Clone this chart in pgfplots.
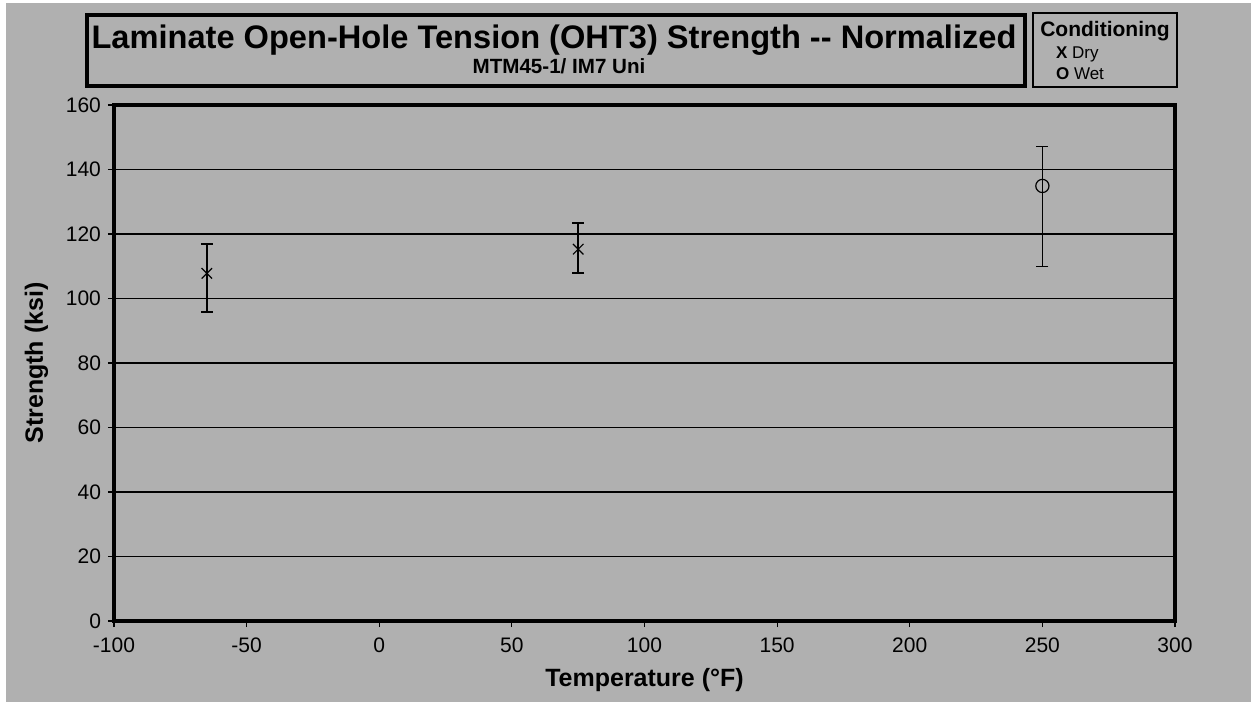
\documentclass[border=0pt]{standalone}
\usepackage{fontspec}
\setmainfont{Liberation Sans}
\usepackage{pgfplots}
\pgfplotsset{compat=1.18}
\definecolor{bg}{RGB}{176,176,176}
\begin{document}
\begin{tikzpicture}[x=0.5pt,y=0.5pt]
\fill[white] (0,0) rectangle (1251,702);
\fill[bg] (6,0) rectangle (1251,699);
% title box
\draw[line width=1.6pt] (87,687) rectangle (1025,616);
\node[font=\bfseries\fontsize{16.3}{18}\selectfont, anchor=center] at (554,662) {Laminate Open-Hole Tension (OHT3) Strength -{}- Normalized};
\node[font=\bfseries\fontsize{10.3}{12}\selectfont, anchor=center] at (559,636) {MTM45-1/ IM7 Uni};
% legend box
\draw[line width=0.6pt] (1033,689) rectangle (1177,615);
\node[font=\bfseries\fontsize{10.5}{12}\selectfont] at (1105,671) {Conditioning};
\node[font=\fontsize{8.5}{9}\selectfont, anchor=west] at (1049,648) {\textbf{X} Dry};
\node[font=\fontsize{8.5}{9}\selectfont, anchor=west] at (1049,628) {\textbf{O} Wet};
\coordinate (AO) at (114,81);
\begin{axis}[
  at={(AO)}, anchor=south west,
  scale only axis, width=530.5pt, height=258pt,
  xmin=-100, xmax=300, ymin=0, ymax=160,
  xtick={-100,-50,...,300}, ytick={0,20,...,160},
  axis line style={line width=2pt},
  ymajorgrids, grid style={black, line width=0.75pt},
  tick align=outside, xtick pos=left, ytick pos=left,
  major tick length=3pt,
  tick style={black, line width=0.6pt},
  ticklabel style={font=\fontsize{10.5}{12}\selectfont},
  x tick label style={yshift=-2pt},
  /pgf/number format/assume math mode=true,
  xlabel={\bfseries Temperature (°F)},
  ylabel={\bfseries Strength (ksi)},
  label style={font=\fontsize{12.5}{14}\selectfont\bfseries},
  xlabel style={yshift=-1pt},
  ylabel style={yshift=2pt},
  clip=false,
]
\addplot[black, only marks, mark=x, mark size=3.7pt, mark options={line width=0.6pt, black}]
  coordinates {(-65,107.8) (75,115.3)};
\addplot[black, draw=none, mark=none, forget plot,
  error bars/.cd, y dir=both, y explicit,
  error bar style={line width=0.75pt, black},
  error mark options={rotate=90, mark size=3pt, line width=0.75pt, black}]
  coordinates {(-65,107.8) += (0,9.1) -= (0,12.0) (75,115.3) += (0,8.1) -= (0,7.4) (250,134.9) += (0,12.3) -= (0,25.0)};
\addplot[black, only marks, mark=o, mark size=3.3pt, mark options={line width=0.6pt, black, fill=none}]
  coordinates {(250,134.9)};
\end{axis}
\end{tikzpicture}
\end{document}
